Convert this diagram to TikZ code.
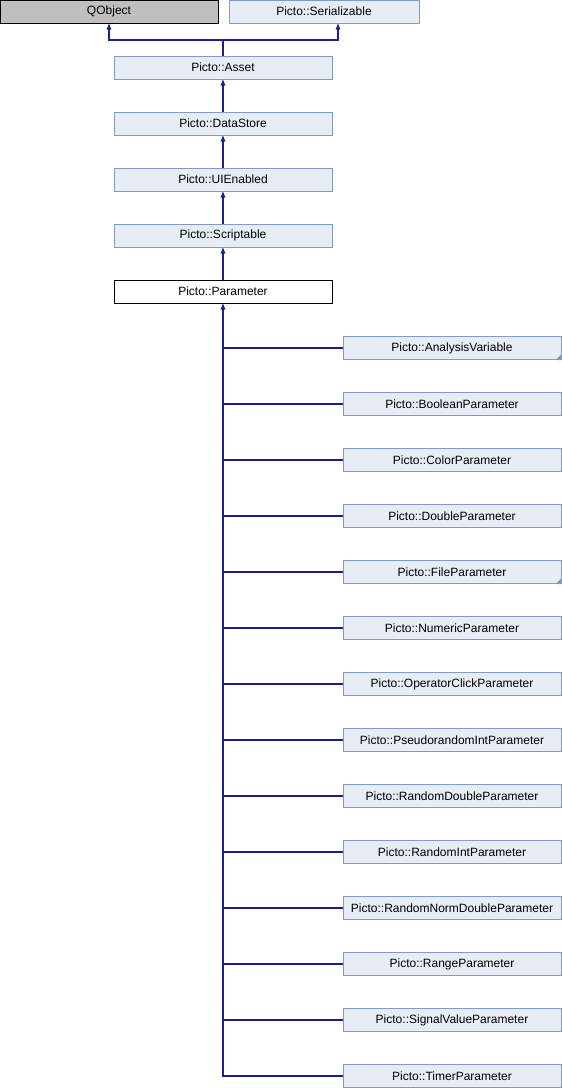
\documentclass[tikz,border=0pt]{standalone}
\usepackage{fontspec}
\setmainfont{Liberation Sans}
\usetikzlibrary{arrows.meta}
\definecolor{boxfill}{HTML}{E8ECF5}
\definecolor{boxline}{HTML}{8499C8}
\definecolor{edge}{HTML}{1A1F94}
\definecolor{qgray}{HTML}{BFBFBF}
\tikzset{
  cls/.style={draw=boxline, fill=boxfill, line width=1pt, minimum width=218pt, minimum height=23pt, inner sep=0pt, font=\fontsize{12}{14}\selectfont, text=black},
  ext/.style={cls, draw=black, fill=qgray},
  cur/.style={cls, draw=black, fill=white},
  link/.style={draw=edge, line width=1.1pt},
  arr/.style={link, -{Triangle[length=6pt,width=4.5pt]}},
  corner/.style={fill=boxline, draw=none}
}
\begin{document}
\begin{tikzpicture}[x=1pt,y=-1pt]
\useasboundingbox (0,0) rectangle (562,1088);
\node[ext] (qobj) at (109,11.5) {QObject};
\node[cls, minimum width=190pt] (ser) at (324,11.5) {Picto::Serializable};
\node[cls] (asset) at (223,67.5) {Picto::Asset};
\node[cls] (ds) at (223,123.5) {Picto::DataStore};
\node[cls] (ui) at (223,179.5) {Picto::UIEnabled};
\node[cls] (scr) at (223,235.5) {Picto::Scriptable};
\node[cur] (par) at (223,291.5) {Picto::Parameter};
\foreach \n/\t [count=\i from 0] in {
  av/AnalysisVariable, bp/BooleanParameter, cp/ColorParameter, dp/DoubleParameter,
  fp/FileParameter, np/NumericParameter, oc/OperatorClickParameter,
  pr/PseudorandomIntParameter, rd/RandomDoubleParameter, ri/RandomIntParameter,
  rn/RandomNormDoubleParameter, rp/RangeParameter, sv/SignalValueParameter} {
  \node[cls] (\n) at (452,348+56*\i) {Picto::\t};
  \draw[link] (\n.west) -- (\n.west -| par.south);
}
\node[cls] (tp) at (452,1076) {Picto::TimerParameter};
\draw[arr] (tp.west) -| (par.south);
\fill[corner] (av.south east) -- ++(-6,0) -- ++(6,-6) -- cycle;
\fill[corner] (fp.south east) -- ++(-6,0) -- ++(6,-6) -- cycle;
\draw[arr] (asset.north) -- ++(0,-15.5) -| (qobj.south);
\draw[arr] (asset.north) -- ++(0,-15.5) -| ([xshift=14pt]ser.south);
\draw[arr] (ds.north) -- (asset.south);
\draw[arr] (ui.north) -- (ds.south);
\draw[arr] (scr.north) -- (ui.south);
\draw[arr] (par.north) -- (scr.south);
\end{tikzpicture}
\end{document}
